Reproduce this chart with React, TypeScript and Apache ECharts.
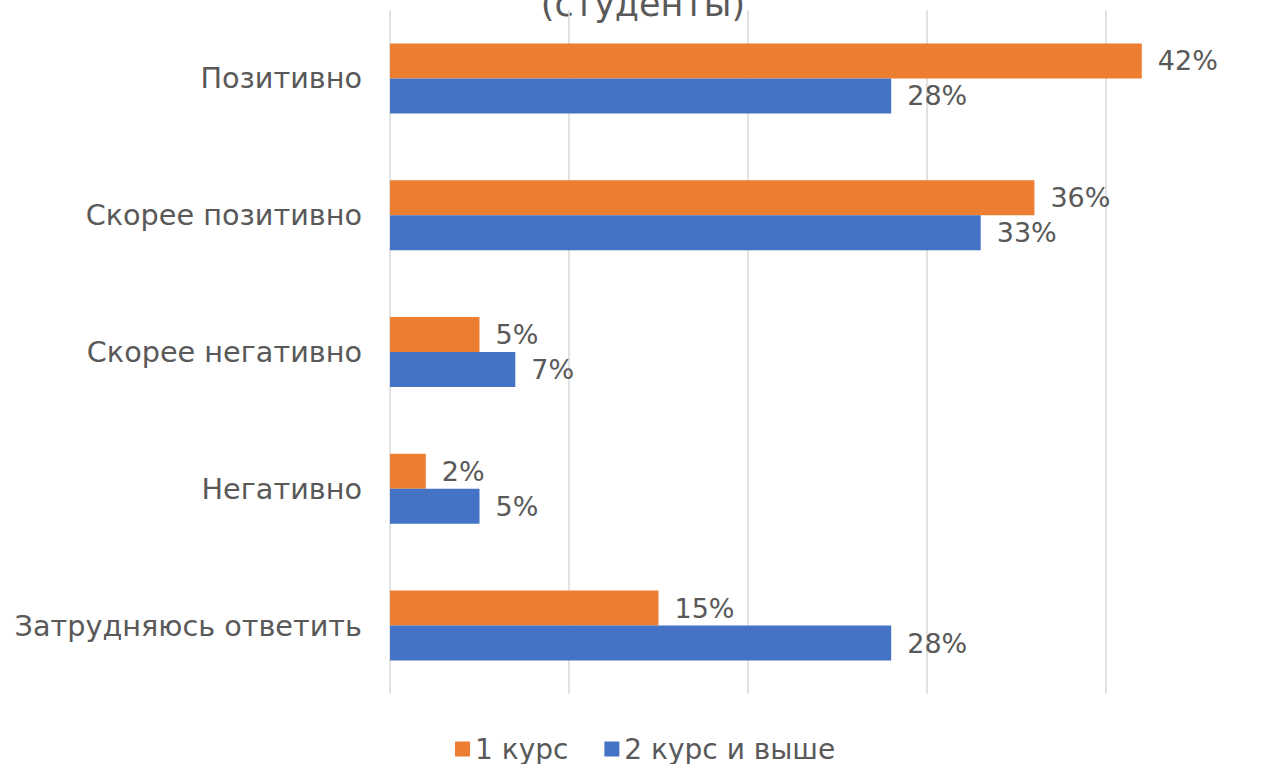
import React, { useEffect, useRef } from "react";
import * as echarts from "echarts";

const categories = ["Позитивно", "Скорее позитивно", "Скорее негативно", "Негативно", "Затрудняюсь ответить"];
const series1Name = "1 курс";
const series2Name = "2 курс и выше";
const series1Values = [42, 36, 5, 2, 15];
const series2Values = [28, 33, 7, 5, 28];
const titleText = "(студенты)";

const FONT = "'DejaVu Sans', sans-serif";
const TEXT = "#595959";

export default function App() {
  const ref = useRef<HTMLDivElement>(null);
  useEffect(() => {
    const chart = echarts.init(ref.current!, null, { renderer: "svg" });
    const label = {
      show: true,
      position: "right" as const,
      distance: 16,
      color: TEXT,
      fontFamily: FONT,
      fontSize: 27,
      formatter: "{c}%",
    };
    chart.setOption({
      animation: false,
      backgroundColor: "#ffffff",
      graphic: [
        {
          type: "text",
          x: 643,
          y: 21,
          style: {
            text: titleText,
            fill: TEXT,
            font: "35px 'DejaVu Sans', sans-serif",
            textAlign: "center",
            textVerticalAlign: "bottom",
          },
        },
      ],
      legend: {
        top: 735,
        left: 455,
        padding: 0,
        itemWidth: 15,
        itemHeight: 15,
        itemGap: 36,
        icon: "rect",
        textStyle: { color: TEXT, fontFamily: FONT, fontSize: 28 },
        data: [series1Name, series2Name],
      },
      grid: { left: 390, width: 895, top: 10, height: 684 },
      xAxis: {
        type: "value",
        min: 0,
        max: 50,
        interval: 10,
        axisLabel: { show: false },
        axisLine: { show: false },
        axisTick: { show: false },
        splitLine: { lineStyle: { color: "#d9d9d9", width: 1.5 } },
      },
      yAxis: {
        type: "category",
        data: categories,
        inverse: true,
        axisLine: { show: false },
        axisTick: { show: false },
        axisLabel: { color: TEXT, fontFamily: FONT, fontSize: 28.7, margin: 28 },
      },
      series: [
        {
          name: series1Name,
          type: "bar",
          data: series1Values,
          barWidth: 35,
          barGap: "0%",
          itemStyle: { color: "#ED7D31" },
          label,
        },
        {
          name: series2Name,
          type: "bar",
          data: series2Values,
          barWidth: 35,
          barGap: "0%",
          itemStyle: { color: "#4472C4" },
          label,
        },
      ],
    });
    return () => chart.dispose();
  }, []);
  return (
    <div style={{ position: "fixed", left: 0, top: 0, width: 1270, height: 764, overflow: "hidden", background: "#fff" }}>
      <div ref={ref} style={{ width: 1300, height: 764 }} />
    </div>
  );
}
